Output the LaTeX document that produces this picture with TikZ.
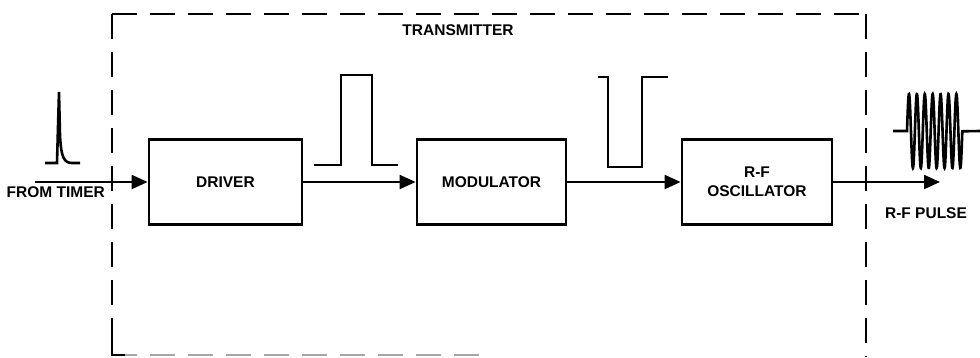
\documentclass[tikz,border=0pt]{standalone}
\usepackage{fontspec}
\setmainfont{Liberation Sans}
\usetikzlibrary{arrows.meta}
\begin{document}
\begin{tikzpicture}[x=1pt,y=-1pt,
  lbl/.style={font=\bfseries\fontsize{15.5}{19}\selectfont, inner sep=0pt, align=center},
  blockbox/.style={draw, line width=2.8pt, minimum height=85pt, inner sep=0pt, lbl},
  conn/.style={line width=2.2pt, -{Triangle[length=16pt,width=14pt]}},
  wave/.style={line width=2.6pt, line join=miter},
  frame/.style={line width=2.4pt, dash pattern=on 25pt off 13pt}]
\useasboundingbox (0,0) rectangle (980,357);
% frame
\draw[frame] (112,14) -- (112,355);
\draw[frame] (112,14) -- (866,14);
\draw[frame] (866,14) -- (866,357);
\draw[frame, gray!70, line width=1.6pt] (112,355) -- (490,355);
\draw[line width=2.4pt] (112,340) -- (112,355) -- (125,355);
\node[lbl] (title) at (458,30) {TRANSMITTER};
% blocks
\node[blockbox, minimum width=153pt] (drv) at (225.5,182) {DRIVER};
\node[blockbox, minimum width=149pt] (mod) at (491.5,182) {MODULATOR};
\node[blockbox, minimum width=150pt] (rfo) at (757,182) {R-F\\OSCILLATOR};
% connectors
\coordinate (in) at (35,182);
\coordinate (out) at (940,182);
\draw[conn] (in) -- (drv.west);
\draw[conn] (drv.east) -- (mod.west);
\draw[conn] (mod.east) -- (rfo.west);
\draw[conn] (rfo.east) -- (out);
\node[lbl, anchor=east] (fromtimer) at (105,192) {FROM TIMER};
\node[lbl] (rfpulse) at (926,213) {R-F PULSE};
% waveforms
\draw[wave] (45,163) -- (57,163) -- (58.2,120) -- (59,92) -- (60,135)
  .. controls (61,157) and (64,163) .. (72,163) -- (80,163);
\draw[wave] (314,165) -- (341,165) -- (341,75) -- (372,75) -- (372,165) -- (398,165);
\draw[wave] (598,77) -- (608,77) -- (608,167) -- (642,167) -- (642,77) -- (668,77);
\draw[wave] (893,131) -- (907,131)
  -- plot[domain=0:7, samples=300] ({907+\x*7.9},{131-37*sin(\x*360)})
  -- (980,131);
\end{tikzpicture}
\end{document}
